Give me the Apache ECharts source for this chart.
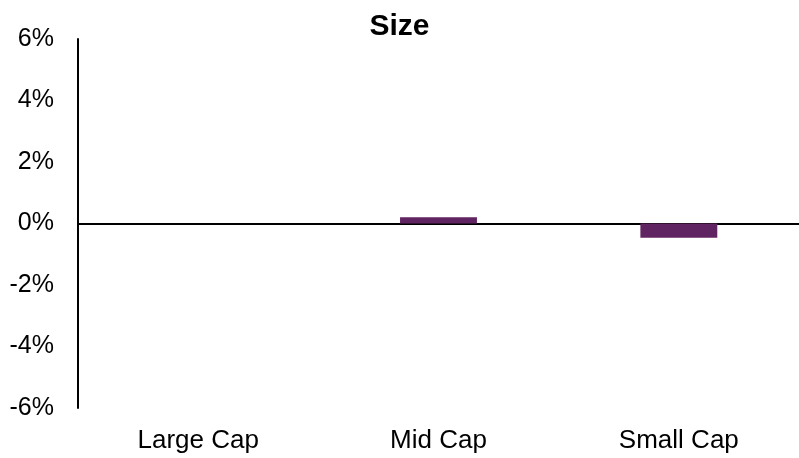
<!DOCTYPE html>
<html>
<head>
<meta charset="utf-8">
<script src="https://cdn.jsdelivr.net/npm/echarts@6/dist/echarts.min.js"></script>
<style>
html,body{margin:0;padding:0;background:#fff;}
#chart{width:799px;height:458px;}
</style>
</head>
<body>
<div id="chart"></div>
<script>
//Size 柱状图
var categories = ["Large Cap", "Mid Cap", "Small Cap"];
var values = [0, 0.2, -0.46];
var yTicks = [-6, -4, -2, 0, 2, 4, 6];

var myChart = echarts.init(document.getElementById("chart"));
var option = {
    animation: false,
    title: {
        text: "Size",
        left: "center",
        top: 7,
        textStyle: {
            fontFamily: "Liberation Sans",
            fontSize: 30,
            fontWeight: "bold",
            color: "#000"
        }
    },
    grid: {
        left: 78,
        right: 0,
        top: 39,
        bottom: 50
    },
    xAxis: [
        {
            type: "category",
            data: categories,
            position: "bottom",
            axisLine: { show: false, onZero: false },
            axisTick: { show: false },
            axisLabel: {
                margin: 20,
                fontFamily: "Liberation Sans",
                fontSize: 26,
                color: "#000"
            }
        },
        {
            type: "category",
            data: categories,
            axisLine: { show: true, onZero: true, lineStyle: { color: "#000", width: 2 } },
            axisTick: { show: false },
            axisLabel: { show: false }
        }
    ],
    yAxis: {
        type: "value",
        min: yTicks[0],
        max: yTicks[yTicks.length - 1],
        interval: 2,
        splitLine: { show: false },
        axisLine: { show: true, lineStyle: { color: "#000", width: 2 } },
        axisTick: { show: false },
        axisLabel: {
            margin: 24,
            fontFamily: "Liberation Sans",
            fontSize: 25,
            color: "#000",
            formatter: "{value}%"
        }
    },
    series: [
        {
            type: "bar",
            data: values,
            barWidth: "32%",
            itemStyle: { color: "#612462" }
        }
    ]
};
myChart.setOption(option);
window.addEventListener("resize", function () {
    myChart.resize();
});
</script>
</body>
</html>
